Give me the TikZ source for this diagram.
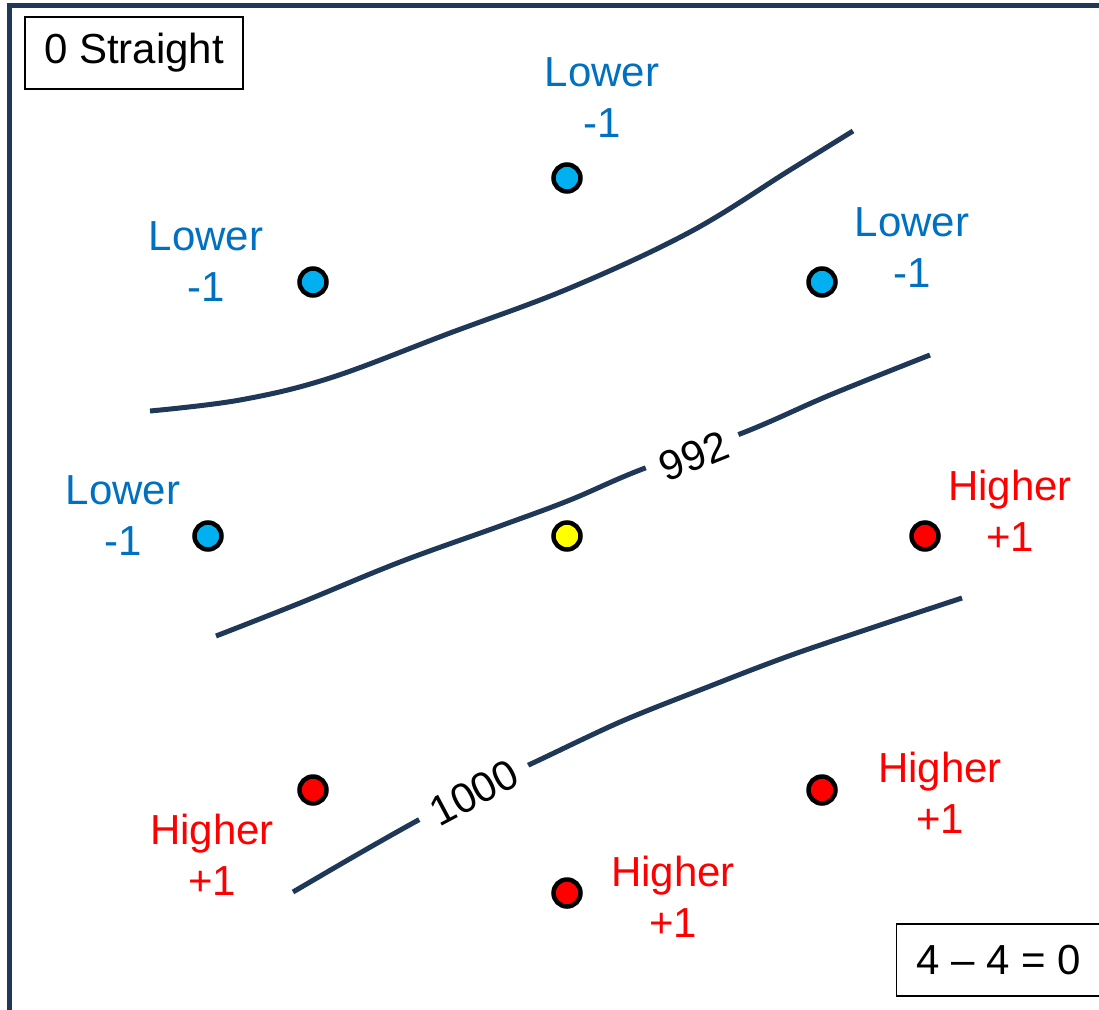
\documentclass[tikz,border=0pt]{standalone}
\usepackage{fontspec}
\setmainfont{Liberation Sans}
\definecolor{navy}{RGB}{31,56,88}
\definecolor{lowblue}{RGB}{0,112,192}
\definecolor{dotblue}{RGB}{0,176,240}
\definecolor{hired}{RGB}{255,0,0}
\definecolor{dotyellow}{RGB}{255,255,0}
\begin{document}
\begin{tikzpicture}[x=1pt,y=-1pt,
  big/.style={font=\fontsize{42}{51}\selectfont},
  lbl/.style={big, align=center, inner sep=0pt},
  lowlbl/.style={lbl, text=lowblue},
  hilbl/.style={lbl, text=hired},
  dot/.style={circle, draw=black, line width=4.5pt, minimum size=27pt, inner sep=0pt},
  iso/.style={navy, line width=5pt},
  isolbl/.style={big, fill=white, inner xsep=14pt, inner ysep=3pt},
  infobox/.style={big, draw=black, line width=1.5pt, inner xsep=20pt, minimum height=72pt}
]
\useasboundingbox (0,0) rectangle (1099,1009);
\draw[navy, line width=5pt] (9.5,5.5) rectangle (1130,1040);

% isobars
\draw[iso] plot[smooth, tension=0.6] coordinates {(150,411) (240,400) (330,378) (450,333) (570,288) (690,232) (790,170) (853,131)};
\draw[iso] plot[smooth, tension=0.6] coordinates {(216,636) (300,603) (400,562) (500,526) (570,500) (640,470) (745,432) (830,395) (930,355)};
\draw[iso] plot[smooth, tension=0.5] coordinates {(293,892) (353,857) (413,823) (475,790) (535,762) (620,722) (700,690) (800,652) (962,598)};
\node[isolbl, rotate=22] (p992) at (694,456) {992};
\node[isolbl, rotate=28] (p1000) at (474,793) {1000};

% boxes
\node[infobox, inner xsep=19pt] (title) at (134,53) {0 Straight};
\node[infobox] (sum) at (999,960) {4 -- 4 = 0};

% dots
\node[dot, fill=dotblue] (d1) at (567,178) {};
\node[dot, fill=dotblue] (d2) at (313,282) {};
\node[dot, fill=dotblue] (d3) at (822,282) {};
\node[dot, fill=dotblue] (d4) at (208,536) {};
\node[dot, fill=dotyellow] (d5) at (567,536) {};
\node[dot, fill=hired] (d6) at (925,536) {};
\node[dot, fill=hired] (d7) at (313,790) {};
\node[dot, fill=hired] (d8) at (822,790) {};
\node[dot, fill=hired] (d9) at (567,893) {};

% labels
\node[lowlbl] (t1) at (602,98) {Lower\\-1};
\node[lowlbl] (t2) at (206,262) {Lower\\-1};
\node[lowlbl] (t3) at (912,248) {Lower\\-1};
\node[lowlbl] (t4) at (123,516) {Lower\\-1};
\node[hilbl] (t6) at (1010,511) {Higher\\+1};
\node[hilbl] (t7) at (212,855) {Higher\\+1};
\node[hilbl] (t8) at (940,793) {Higher\\+1};
\node[hilbl] (t9) at (673,897) {Higher\\+1};
\end{tikzpicture}
\end{document}
